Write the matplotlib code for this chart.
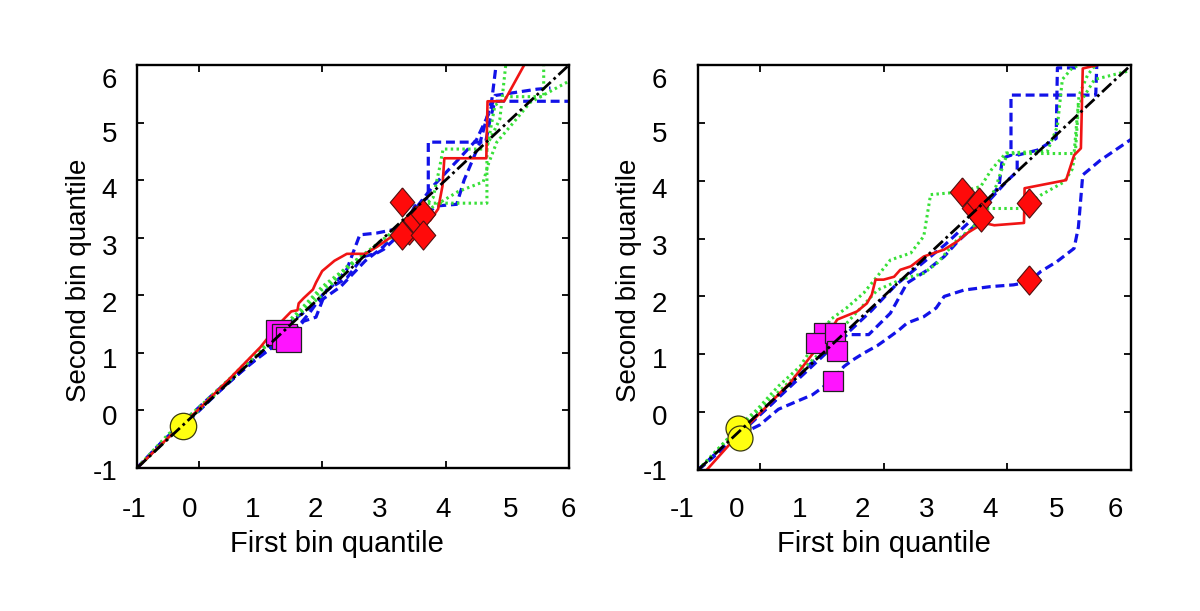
import matplotlib
matplotlib.use("Agg")
import matplotlib.pyplot as plt

plt.rcParams['font.family'] = ['Liberation Sans', 'DejaVu Sans']

# ---------------- data ----------------
DIAG = [-1.0, 6.0]
TICK_TEXT = ['-1', '0', '1', '2', '3', '4', '5', '6']
X_LABEL = 'First bin quantile'
Y_LABEL = 'Second bin quantile'

# Left panel
left_red_x = [-1.0, -0.5, 0.0, 0.5, 1.0, 1.3, 1.5, 1.6, 1.62, 1.7, 1.85, 1.9, 2.0, 2.2, 2.4, 2.7, 2.9, 3.1, 3.3, 3.6, 3.75, 3.88, 3.95, 3.98, 4.66, 4.68, 4.95, 5.3]
left_red_y = [-1.0, -0.48, 0.02, 0.55, 1.1, 1.5, 1.72, 1.74, 1.86, 1.95, 2.1, 2.22, 2.42, 2.6, 2.72, 2.72, 2.85, 3.0, 3.1, 3.2, 3.3, 3.5, 3.9, 4.38, 4.38, 5.37, 5.37, 6.05]

left_blue1_x = [-1.0, -0.6, -0.2, 0.3, 0.8, 1.2, 1.5, 1.7, 1.9, 2.07, 2.4, 2.66, 2.88, 3.0, 3.3, 3.5, 3.72, 3.72, 4.65, 4.72, 4.8, 6.0]
left_blue1_y = [-1.0, -0.55, -0.22, 0.3, 0.78, 1.1, 1.3, 1.55, 1.62, 2.09, 2.3, 2.67, 2.73, 2.8, 3.1, 3.55, 3.7, 4.66, 4.66, 5.05, 5.37, 5.37]
left_blue2_x = [-1.0, -0.5, 0.0, 0.5, 1.0, 1.3, 1.6, 1.8, 2.0, 2.2, 2.4, 2.61, 2.88, 3.2, 3.6, 3.84, 4.18, 4.3, 4.56, 4.75, 4.83]
left_blue2_y = [-1.0, -0.45, 0.0, 0.5, 0.95, 1.2, 1.45, 1.7, 2.0, 2.2, 2.45, 3.05, 3.08, 3.15, 3.3, 3.55, 3.58, 4.0, 4.66, 5.4, 6.1]
left_blue3_x = [-1.0, -0.4, 0.2, 0.7, 1.1, 1.5, 1.9, 2.3, 2.7, 3.0, 3.4, 3.8, 4.2, 4.5, 4.72, 4.8, 5.48, 5.7]
left_blue3_y = [-1.0, -0.35, 0.25, 0.72, 1.05, 1.55, 1.85, 2.15, 2.6, 2.85, 3.35, 3.9, 4.35, 4.7, 5.2, 5.47, 5.58, 5.6]

left_green1_x = [-1.0, -0.5, 0.0, 0.5, 1.0, 1.3, 1.6, 2.0, 2.3, 2.6, 2.9, 3.2, 3.5, 3.75, 4.67, 4.67, 4.88, 4.98]
left_green1_y = [-1.0, -0.42, 0.05, 0.55, 1.08, 1.4, 1.7, 2.15, 2.4, 2.65, 2.9, 3.15, 3.5, 3.6, 3.6, 4.6, 5.06, 6.05]
left_green2_x = [-1.0, -0.6, 0.0, 0.6, 1.2, 1.6, 2.0, 2.4, 2.8, 3.2, 3.5, 3.74, 4.2, 4.61, 4.7, 4.83, 5.1, 5.37, 6.0]
left_green2_y = [-1.0, -0.58, 0.0, 0.62, 1.25, 1.65, 2.0, 2.5, 2.8, 3.05, 3.25, 3.5, 3.8, 3.97, 4.3, 4.66, 5.0, 5.35, 5.72]
left_green3_x = [-1.0, -0.3, 0.4, 1.0, 1.5, 2.0, 2.5, 3.0, 3.4, 3.8, 3.9, 3.96, 4.67, 4.8, 5.0, 5.59, 5.59]
left_green3_y = [-1.0, -0.28, 0.45, 1.02, 1.55, 2.1, 2.55, 2.95, 3.3, 3.7, 4.2, 4.54, 4.54, 5.3, 5.45, 5.45, 6.1]

left_circle_x = [-0.25]
left_circle_y = [-0.27]
left_square_x = [1.29, 1.38, 1.45]
left_square_y = [1.36, 1.30, 1.24]
left_diamond_x = [3.29, 3.40, 3.51, 3.29, 3.64, 3.64]
left_diamond_y = [3.62, 3.14, 3.31, 3.04, 3.42, 3.04]

# Right panel
right_red_x = [-0.86, -0.4, 0.0, 0.5, 0.92, 1.0, 1.08, 1.25, 1.57, 1.73, 1.81, 1.87, 2.0, 2.17, 2.27, 2.44, 2.65, 2.98, 3.19, 3.36, 3.62, 3.79, 4.27, 4.28, 4.95, 5.08, 5.19, 5.22, 5.46]
right_red_y = [-1.0, -0.45, -0.02, 0.52, 1.1, 1.15, 1.3, 1.6, 1.74, 1.88, 2.03, 2.29, 2.29, 2.34, 2.46, 2.52, 2.69, 2.81, 2.95, 3.10, 3.27, 3.23, 3.27, 3.87, 4.01, 4.44, 4.56, 5.94, 6.0]

right_blue1_x = [-1.0, -0.6, -0.3, 0.0, 0.3, 0.65, 0.85, 1.03, 1.2, 1.36, 1.5, 1.68, 1.9, 2.11, 2.25, 2.38, 2.65, 2.85, 2.98, 3.3, 3.73, 4.1, 4.35, 4.54, 4.8, 5.08, 5.15, 5.22, 5.5, 6.05]
right_blue1_y = [-1.0, -0.62, -0.38, -0.22, 0.05, 0.21, 0.3, 0.44, 0.6, 0.79, 0.9, 1.02, 1.15, 1.31, 1.42, 1.54, 1.65, 1.8, 2.0, 2.11, 2.17, 2.2, 2.25, 2.43, 2.6, 2.83, 3.2, 4.10, 4.35, 4.75]
right_blue2_x = [-1.0, -0.5, -0.2, 0.3, 0.8, 1.2, 1.41, 1.76, 2.11, 2.38, 2.7, 2.98, 3.2, 3.46, 3.6, 3.68, 3.87, 3.92, 4.06, 4.06, 5.43, 5.45]
right_blue2_y = [-1.0, -0.55, -0.25, 0.25, 0.75, 1.15, 1.34, 1.34, 1.71, 2.23, 2.45, 2.69, 2.95, 3.21, 3.4, 3.6, 3.93, 4.39, 4.44, 5.48, 5.48, 6.1]
right_blue3_x = [-1.0, -0.4, 0.2, 0.8, 1.3, 1.8, 2.2, 2.6, 3.0, 3.4, 3.7, 4.0, 4.16, 4.16, 4.49, 4.79, 4.81, 5.14, 5.2]
right_blue3_y = [-1.0, -0.4, 0.15, 0.82, 1.25, 1.75, 2.2, 2.55, 2.9, 3.3, 3.65, 4.0, 4.16, 4.44, 4.53, 4.73, 5.95, 5.95, 6.1]

right_green1_x = [-1.0, -0.6, -0.3, -0.05, 0.3, 0.65, 0.9, 1.14, 1.4, 1.68, 1.9, 2.11, 2.44, 2.65, 2.72, 2.76, 3.08, 3.3, 3.57, 3.75, 3.98, 4.65, 4.81, 4.89, 5.05, 5.3]
right_green1_y = [-1.0, -0.55, -0.2, 0.04, 0.45, 0.79, 1.2, 1.6, 1.8, 2.06, 2.35, 2.63, 2.75, 3.04, 3.5, 3.76, 3.79, 3.82, 3.9, 4.2, 4.48, 4.51, 4.94, 5.75, 5.95, 6.05]
right_green2_x = [-1.0, -0.5, 0.0, 0.5, 0.9, 1.2, 1.5, 1.9, 2.3, 2.65, 2.87, 3.19, 3.45, 3.6, 3.68, 4.27, 4.35, 4.54, 4.92, 5.05, 5.1, 5.15, 5.41, 6.05]
right_green2_y = [-1.0, -0.45, 0.05, 0.55, 0.95, 1.3, 1.65, 2.11, 2.3, 2.4, 2.58, 2.98, 3.2, 3.45, 3.52, 3.52, 3.61, 3.75, 3.98, 4.2, 4.47, 5.3, 5.75, 5.92]
right_green3_x = [3.45, 3.6, 3.8, 4.0, 5.08, 5.16, 5.3, 5.5]
right_green3_y = [3.3, 3.5, 3.85, 4.47, 4.47, 5.48, 5.83, 6.1]

right_circle_x = [-0.35, -0.32]
right_circle_y = [-0.28, -0.45]
right_square_x = [1.03, 0.91, 1.22, 1.25, 1.19]
right_square_y = [1.37, 1.19, 1.37, 1.05, 0.53]
right_diamond_x = [3.27, 3.46, 3.54, 3.57, 4.35, 4.35]
right_diamond_y = [3.81, 3.53, 3.64, 3.38, 3.61, 2.28]

# ---------------- styling / layout ----------------
W, H = 1200, 611
BLUE = '#1212e8'
GREEN = '#38e038'
RED = '#f01414'
YELLOW = '#ffff10'
MAGENTA = '#ff14ff'
DIAMOND = [(0, 1), (0.84, 0), (0, -1), (-0.84, 0), (0, 1)]


def fx(px):
    return px / W


def fy(py):
    return 1 - py / H


fig = plt.figure(figsize=(12, 6.11), dpi=100)
fig.patch.set_facecolor('white')

axL = fig.add_axes([fx(137), fy(468), 432 / W, 403 / H])
axR = fig.add_axes([fx(698), fy(470), 433 / W, 405 / H])


def draw(ax, blues, greens, reds, circ, sq, dia, circ_ms, sq_ms):
    for xs, ys in blues:
        ax.plot(xs, ys, color=BLUE, lw=2.3, dashes=(2.8, 1.5), zorder=2)
    for xs, ys in greens:
        ax.plot(xs, ys, color=GREEN, lw=2.2, dashes=(0.8, 1.1), zorder=2)
    for xs, ys in reds:
        ax.plot(xs, ys, color=RED, lw=1.9, zorder=2.5)
    ax.plot(circ[0], circ[1], ls='none', marker='o', ms=circ_ms, mfc=YELLOW,
            mec='#3a3a10', mew=0.9, zorder=3)
    ax.plot(sq[0], sq[1], ls='none', marker='s', ms=sq_ms, mfc=MAGENTA,
            mec='#202020', mew=0.9, zorder=3)
    ax.plot(dia[0], dia[1], ls='none', marker=DIAMOND, ms=21, mfc='#ff0a0a',
            mec='#501010', mew=0.8, zorder=3)
    ax.plot(DIAG, DIAG, color='black', lw=2.0, dashes=(4.5, 1.4, 1.0, 1.4), zorder=5)
    ax.set_xlim(-1, 6)
    ax.set_ylim(-1, 6)
    ax.set_xticks([0, 2, 4])
    ax.set_yticks([0, 1, 2, 3, 4, 5])
    ax.tick_params(direction='in', length=5, width=1.3, top=True, right=True,
                   labelbottom=False, labelleft=False, color='black')
    for sp in ax.spines.values():
        sp.set_linewidth(1.7)
        sp.set_color('black')


draw(axL,
     [(left_blue1_x, left_blue1_y), (left_blue2_x, left_blue2_y), (left_blue3_x, left_blue3_y)],
     [(left_green1_x, left_green1_y), (left_green2_x, left_green2_y), (left_green3_x, left_green3_y)],
     [(left_red_x, left_red_y)],
     (left_circle_x, left_circle_y), (left_square_x, left_square_y),
     (left_diamond_x, left_diamond_y), 19, 18)

draw(axR,
     [(right_blue1_x, right_blue1_y), (right_blue2_x, right_blue2_y), (right_blue3_x, right_blue3_y)],
     [(right_green1_x, right_green1_y), (right_green2_x, right_green2_y), (right_green3_x, right_green3_y)],
     [(right_red_x, right_red_y)],
     (right_circle_x, right_circle_y), (right_square_x, right_square_y),
     (right_diamond_x, right_diamond_y), 18, 14.5)

# tick label texts (pixel layout measured from reference)
FS = 20
xlab_px_left = [134, 190, 253, 315, 380, 443, 511, 568]
xlab_px_right = [682, 737, 800, 862, 927, 990, 1057, 1115]
ylab_base_py = [480, 425, 368, 312, 255, 198, 142.5, 87.5]

for t, px in zip(TICK_TEXT, xlab_px_left):
    fig.text(fx(px), fy(517), t, ha='center', va='baseline', fontsize=FS)
for t, px in zip(TICK_TEXT, xlab_px_right):
    fig.text(fx(px), fy(517), t, ha='center', va='baseline', fontsize=FS)
for t, py in zip(TICK_TEXT, ylab_base_py):
    fig.text(fx(117), fy(py), t, ha='right', va='baseline', fontsize=FS)
    fig.text(fx(667), fy(py), t, ha='right', va='baseline', fontsize=FS)

fig.text(fx(337), fy(552), X_LABEL, ha='center', va='baseline', fontsize=21)
fig.text(fx(884), fy(552), X_LABEL, ha='center', va='baseline', fontsize=21)
fig.text(fx(79), fy(280), Y_LABEL, ha='center', va='center', rotation=90, fontsize=FS)
fig.text(fx(629), fy(280), Y_LABEL, ha='center', va='center', rotation=90, fontsize=FS)

fig.savefig('out.png', dpi=100, facecolor='white')
